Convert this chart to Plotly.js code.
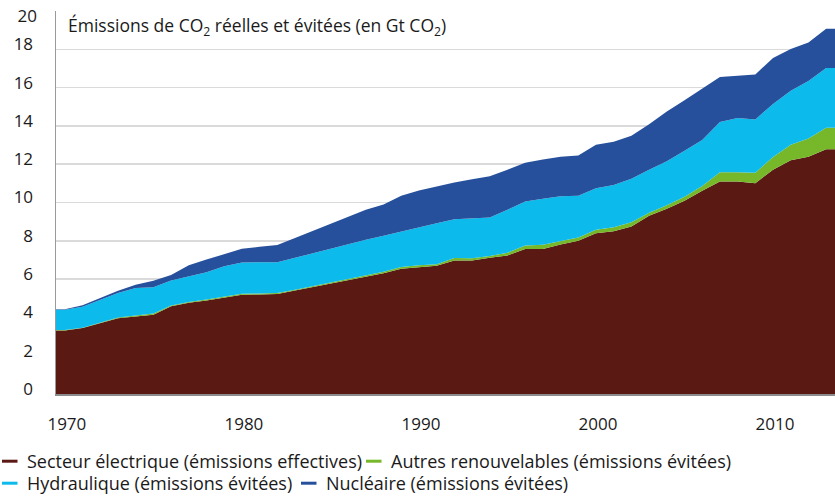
<!DOCTYPE html>
<html>
<head>
<meta charset="utf-8">
<script src="https://cdn.plot.ly/plotly-3.0.1.min.js"></script>
<style>
html,body{margin:0;padding:0;background:#ffffff;}
#chart{width:835px;height:496px;}
</style>
</head>
<body>
<div id="chart"></div>
<script>
// ---- Data (Gt CO2) ----
const years = [1970,1971,1972,1973,1974,1975,1976,1977,1978,1979,
               1980,1981,1982,1983,1984,1985,1986,1987,1988,1989,
               1990,1991,1992,1993,1994,1995,1996,1997,1998,1999,
               2000,2001,2002,2003,2004,2005,2006,2007,2008,2009,
               2010,2011,2012,2013];

// Secteur électrique (émissions effectives)
const secteurElectrique = [3.32,3.44,3.70,3.96,4.05,4.14,4.58,4.76,4.88,5.02,
                           5.18,5.20,5.22,5.40,5.58,5.76,5.95,6.13,6.31,6.54,
                           6.63,6.70,6.97,6.97,7.11,7.23,7.57,7.57,7.81,8.00,
                           8.39,8.50,8.75,9.31,9.67,10.09,10.61,11.10,11.10,11.01,
                           11.71,12.21,12.39,12.78];

// Autres renouvelables (émissions évitées)
const autresRenouvelables = [0.02,0.02,0.02,0.03,0.05,0.06,0.04,0.04,0.05,0.05,
                             0.05,0.05,0.05,0.05,0.06,0.06,0.06,0.07,0.07,0.09,
                             0.09,0.07,0.13,0.12,0.10,0.15,0.19,0.22,0.19,0.17,
                             0.19,0.21,0.22,0.16,0.18,0.21,0.25,0.48,0.48,0.55,
                             0.67,0.80,0.95,1.12];

// Hydraulique (émissions évitées)
const hydraulique = [1.06,1.09,1.20,1.28,1.43,1.37,1.31,1.35,1.43,1.60,
                     1.64,1.63,1.61,1.66,1.71,1.76,1.81,1.85,1.88,1.86,
                     1.98,2.15,2.03,2.08,2.01,2.24,2.29,2.40,2.32,2.18,
                     2.17,2.21,2.27,2.24,2.30,2.40,2.41,2.63,2.83,2.78,
                     2.77,2.83,3.01,3.13];

// Nucléaire (émissions évitées)
const nucleaire = [0.03,0.09,0.10,0.12,0.17,0.34,0.29,0.57,0.66,0.63,
                   0.71,0.81,0.90,1.03,1.17,1.31,1.43,1.57,1.64,1.86,
                   1.93,1.93,1.92,2.05,2.15,2.09,2.02,2.05,2.07,2.11,
                   2.26,2.25,2.24,2.37,2.60,2.64,2.69,2.35,2.21,2.35,
                   2.40,2.17,2.01,2.04];

const seriesNames = [
  'Secteur électrique (émissions effectives)',
  'Autres renouvelables (émissions évitées)',
  'Hydraulique (émissions évitées)',
  'Nucléaire (émissions évitées)'
];
const xTickValues = [1970, 1980, 1990, 2000, 2010];
const yTickValues = [0, 2, 4, 6, 8, 10, 12, 14, 16, 18, 20];
const chartTitle = 'Émissions de CO<sub>2</sub> réelles et évitées (en Gt CO<sub>2</sub>)';

// ---- Styling ----
const colors = ['#5a1913', '#77b82a', '#0dbaec', '#26509c'];
const FONT = '"Open Sans", "Noto Sans", sans-serif';
const TEXT = '#1a1a1a';
// legend entry placement (container pixels): [left, top]
const legendIds = ['legend', 'legend2', 'legend3', 'legend4'];
const legendPos = [[2, 443], [366, 443], [2, 465], [301, 465]];

// Category-style area: each year occupies one slot, the area is carried
// flat across the half slot at both ends (as in the original chart).
const half = 0.5;
function padX(xs) { return [xs[0] - half].concat(xs, [xs[xs.length - 1] + half]); }
function padY(vs) { return [vs[0]].concat(vs, [vs[vs.length - 1]]); }

const seriesValues = [secteurElectrique, autresRenouvelables, hydraulique, nucleaire];

const traces = [];
seriesValues.forEach(function (vals, i) {
  traces.push({
    type: 'scatter',
    mode: 'lines',
    x: padX(years),
    y: padY(vals),
    stackgroup: 'co2',
    fillcolor: colors[i],
    line: { width: 0, color: colors[i] },
    name: seriesNames[i],
    showlegend: false,
    hoverinfo: 'skip'
  });
});
// Legend entries: short horizontal dash keys
seriesValues.forEach(function (vals, i) {
  traces.push({
    type: 'scatter',
    mode: 'markers',
    x: [null],
    y: [null],
    yaxis: 'y2',
    name: seriesNames[i],
    legend: legendIds[i],
    marker: { symbol: 'line-ew', size: 15, color: colors[i], line: { width: 3, color: colors[i] } },
    showlegend: true,
    hoverinfo: 'skip'
  });
});

function legendLayout(pos) {
  return {
    orientation: 'h',
    xref: 'container', x: pos[0] / 835, xanchor: 'left',
    yref: 'container', y: 1 - pos[1] / 496, yanchor: 'top',
    font: { family: FONT, size: 18, color: TEXT },
    bgcolor: 'rgba(0,0,0,0)',
    itemwidth: 30,
    indentation: -15
  };
}

const tickFont = { family: FONT, size: 17, color: TEXT };

const layout = {
  width: 835,
  height: 496,
  margin: { l: 56, r: 0, t: 11, b: 102 },
  paper_bgcolor: '#ffffff',
  plot_bgcolor: '#ffffff',
  font: { family: FONT, color: TEXT, size: 16 },
  title: {
    text: chartTitle,
    font: { family: FONT, size: 17.5, color: TEXT },
    xref: 'container', x: 68 / 835, xanchor: 'left',
    yref: 'container', y: 1 - 26 / 496, yanchor: 'middle'
  },
  xaxis: {
    type: 'linear',
    range: [years[0] - half, years[years.length - 1] + half],
    tickmode: 'array',
    tickvals: xTickValues,
    ticktext: xTickValues.map(String),
    ticks: '',
    showgrid: false,
    zeroline: false,
    showline: true,
    linecolor: '#8c8c8c',
    linewidth: 2,
    tickfont: tickFont,
    ticklabelstandoff: 14,
    ticklabelshift: 2,
    fixedrange: true
  },
  // main value axis: gridlines for every step, labels for all but the top one
  yaxis: {
    range: [0, 20],
    tickmode: 'array',
    tickvals: yTickValues,
    ticktext: yTickValues.map(function (v, k) { return k === yTickValues.length - 1 ? '' : String(v); }),
    ticks: '',
    showgrid: true,
    gridcolor: '#dadada',
    gridwidth: 1.5,
    zeroline: false,
    showline: true,
    linecolor: '#9a9a9a',
    linewidth: 1.5,
    tickfont: tickFont,
    ticklabelstandoff: 18,
    ticklabelshift: -5,
    fixedrange: true
  },
  // same scale, carries only the top label (sits just under the top gridline)
  yaxis2: {
    overlaying: 'y',
    side: 'left',
    range: [0, 20],
    tickmode: 'array',
    tickvals: [yTickValues[yTickValues.length - 1]],
    ticktext: [String(yTickValues[yTickValues.length - 1])],
    ticks: '',
    showgrid: false,
    zeroline: false,
    showline: false,
    tickfont: tickFont,
    ticklabelstandoff: 18,
    ticklabelshift: 5,
    ticklabeloverflow: 'allow',
    fixedrange: true
  },
  showlegend: true,
  hovermode: false
};
legendIds.forEach(function (id, i) { layout[id] = legendLayout(legendPos[i]); });

Plotly.newPlot('chart', traces, layout, { displayModeBar: false, staticPlot: true });
</script>
</body>
</html>
